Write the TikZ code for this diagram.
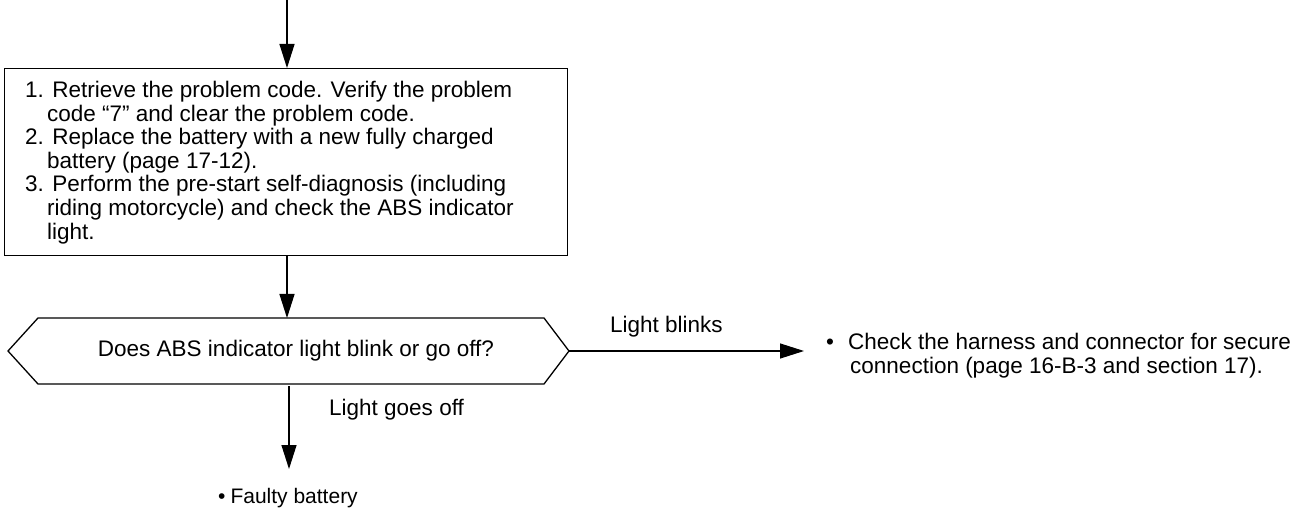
\documentclass[tikz,border=0pt]{standalone}
\usepackage{fontspec}
\setmainfont{Liberation Sans}
\usetikzlibrary{arrows.meta}
\begin{document}
\begin{tikzpicture}[x=1pt,y=-1pt,
  line/.style={line width=1.3pt},
  arr/.style={line, -{Triangle[length=24pt,width=15pt]}},
  txt/.style={inner sep=0pt, font=\fontsize{22.5}{23.6}\selectfont, align=left}]
\useasboundingbox (0,0) rectangle (1308,510);
% top entry point
\coordinate (start) at (287,0);
% step box
\node[draw, line, minimum width=563pt, minimum height=187pt, anchor=north west, inner sep=0pt] (box) at (4,68) {};
\node[txt, anchor=north west] (steps) at (25,81) {%
1. Retrieve the problem code. Verify the problem\\
\hspace*{22pt}code “7” and clear the problem code.\\
2. Replace the battery with a new fully charged\\
\hspace*{22pt}battery (page 17-12).\\
3. Perform the pre-start self-diagnosis (including\\
\hspace*{22pt}riding motorcycle) and check the ABS indicator\\
\hspace*{22pt}light.};
% decision hexagon
\draw[line] (8,351) -- (38,318) -- (544,318) -- (569,351) -- (544,384) -- (38,384) -- cycle;
\node[txt] (dectext) at (296,351) {Does ABS indicator light blink or go off?};
\coordinate (decT) at (287,318);
\coordinate (decB) at (289,386);
\coordinate (decR) at (569,351);
% outcomes
\node[txt, anchor=north west] (check) at (826,333) {•\hspace{14pt}Check the harness and connector for secure\\\hspace*{24pt}connection (page 16-B-3 and section 17).};
\coordinate (checkW) at (804,351);
\node[txt, anchor=base west, font=\fontsize{21}{23}\selectfont] (faulty) at (218,503) {•\hspace{5pt}Faulty battery};
\coordinate (faultyN) at (289,469);
% connectors
\draw[arr] (start) -- (box.north -| start);
\draw[arr] (box.south -| start) -- (decT);
\draw[arr] (decR) -- (checkW);
\node[txt, anchor=base west] (lb) at (610,333) {Light blinks};
\draw[arr] (decB) -- (faultyN);
\node[txt, anchor=base west] (lgo) at (329,415) {Light goes off};
\end{tikzpicture}
\end{document}
